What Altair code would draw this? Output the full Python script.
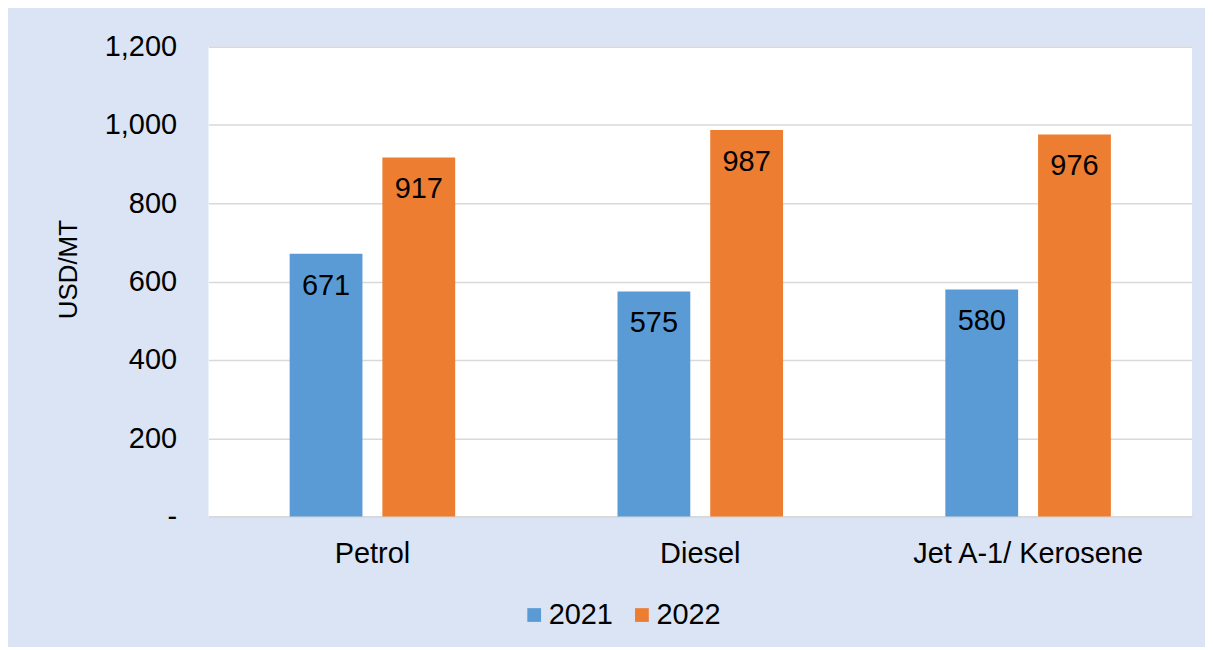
import altair as alt
import pandas as pd

categories = ["Petrol", "Diesel", "Jet A-1/ Kerosene"]
years = ["2021", "2022"]
values_2021 = [671, 575, 580]
values_2022 = [917, 987, 976]
y_ticks = [0, 200, 400, 600, 800, 1000, 1200]

rows = []
for c, a, b in zip(categories, values_2021, values_2022):
    rows.append({"product": c, "year": "2021", "value": a})
    rows.append({"product": c, "year": "2022", "value": b})
df = pd.DataFrame(rows)

FONT = "Liberation Sans"
BG = "#dae4f4"
FS = 29

x = alt.X("product:N", sort=categories, title=None,
          scale=alt.Scale(paddingInner=0, paddingOuter=0),
          axis=alt.Axis(labelAngle=0, labelFont=FONT, labelFontSize=FS, labelColor="#000000",
                        labelPadding=23, labelLimit=0, ticks=False, domain=True, domainColor="#d9d9d9",
                        domainWidth=2, grid=False))
xo = alt.XOffset("year:N", sort=years,
                 scale=alt.Scale(paddingInner=0.215, paddingOuter=0.875))
y = alt.Y("value:Q", title="USD/MT",
          scale=alt.Scale(domain=[0, 1200], nice=False),
          axis=alt.Axis(values=y_ticks, labelExpr="datum.value == 0 ? '-' : format(datum.value, ',')",
                        labelFont=FONT, labelFontSize=FS, labelColor="#000000", labelPadding=32,
                        ticks=False, domain=False, gridColor="#d9d9d9", gridWidth=1.5,
                        titleFont=FONT, titleFontSize=26, titleFontWeight="normal", titleColor="#000000",
                        titleAngle=-90, titleAlign="center", titleBaseline="middle",
                        titleX=-140, titleY=223))
color = alt.Color("year:N", sort=years,
                  scale=alt.Scale(domain=years, range=["#5b9bd5", "#ed7d31"]),
                  legend=alt.Legend(title=None, orient="none", direction="horizontal",
                                    legendX=312, legendY=555, symbolType="square",
                                    symbolSize=190, symbolStrokeWidth=0, labelFont=FONT,
                                    labelFontSize=FS, labelColor="#000000", labelOffset=0,
                                    columnPadding=14, padding=0))

bars = alt.Chart(df).mark_bar(opacity=1).encode(x=x, xOffset=xo, y=y, color=color)
labels = alt.Chart(df).mark_text(font=FONT, fontSize=FS, color="#000000",
                                 baseline="middle", dy=32).encode(
    x=x, xOffset=xo, y=y, text=alt.Text("value:Q", format=","))

chart = (bars + labels).properties(
    width=986, height=471,
    autosize=alt.AutoSizeParams(type="none"),
    padding={"left": 201, "top": 38, "right": 13, "bottom": 130},
    background=BG,
).configure_view(fill="#ffffff", stroke=None)

chart.save("out.html", embed_options={"renderer": "svg", "actions": False})
